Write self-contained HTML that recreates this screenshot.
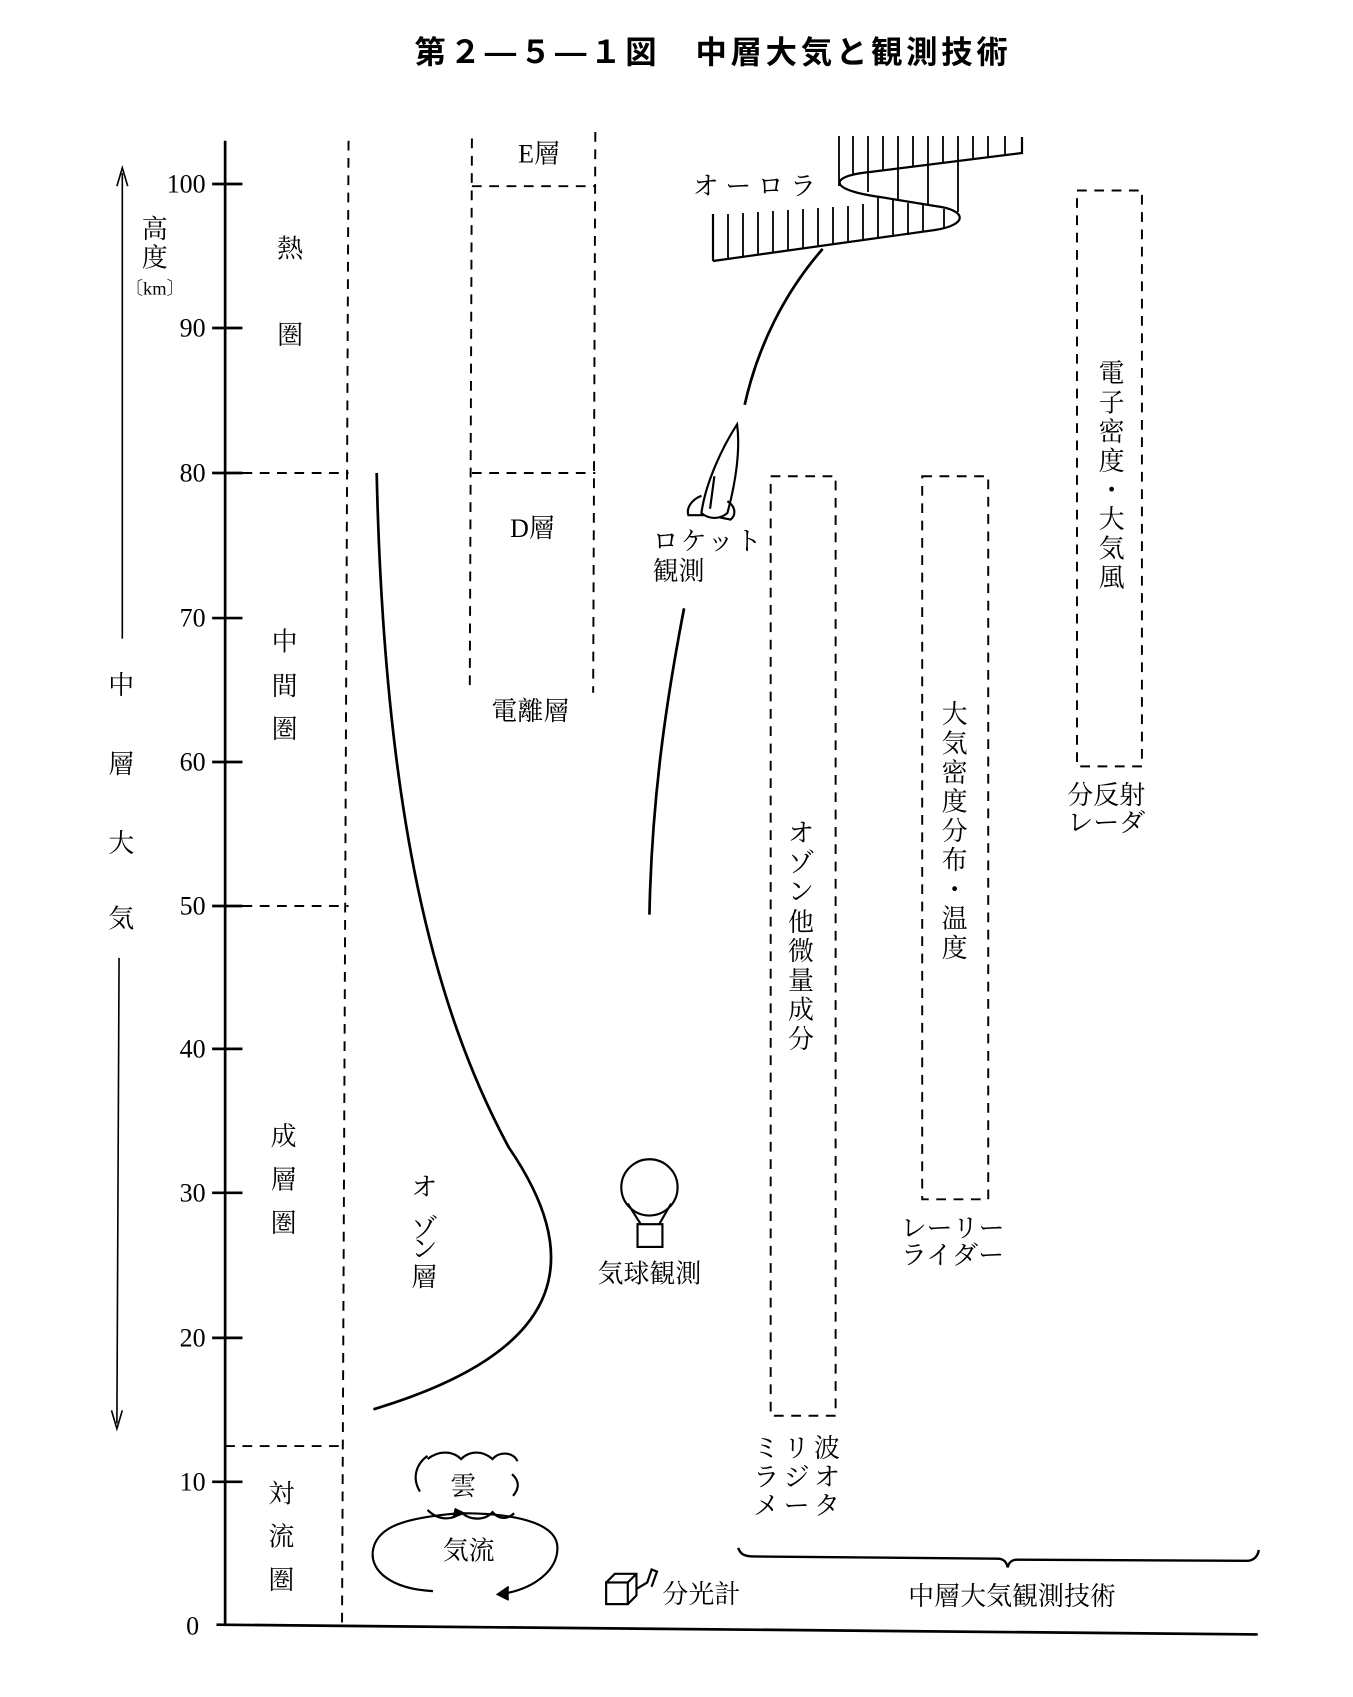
<!DOCTYPE html>
<html><head><meta charset="utf-8"><style>
html,body{margin:0;padding:0;background:#fff;}
svg{display:block}
text{font-family:"Liberation Serif","Noto Serif CJK SC","Noto Sans CJK JP",serif;fill:#000;font-size:24px}
.b{font-family:"Liberation Sans","Noto Sans CJK JP",sans-serif;font-weight:bold;font-size:29px}
.n{font-family:"Liberation Serif",serif;font-size:24px}
</style></head><body>
<svg width="1353" height="1697" viewBox="0 0 1353 1697" xmlns="http://www.w3.org/2000/svg">
<g transform="scale(1.0824)" stroke="#000" fill="none">
<text class="b" x="383" y="58" stroke="none" textLength="548">第２—５—１図　中層大気と観測技術</text>
<line x1="208" y1="130" x2="208" y2="1502" stroke-width="2.5"/>
<line x1="200" y1="1501" x2="1162" y2="1510" stroke-width="2.5"/>
<g stroke-width="2.5">
<line x1="196" y1="170" x2="224" y2="170"/><line x1="196" y1="303" x2="224" y2="303"/>
<line x1="196" y1="437" x2="224" y2="437"/><line x1="196" y1="571" x2="224" y2="571"/>
<line x1="196" y1="704" x2="224" y2="704"/><line x1="196" y1="837" x2="224" y2="837"/>
<line x1="196" y1="969" x2="224" y2="969"/><line x1="196" y1="1102" x2="224" y2="1102"/>
<line x1="196" y1="1236" x2="224" y2="1236"/><line x1="196" y1="1369" x2="224" y2="1369"/>
</g>
<g stroke="none">
<text class="n" x="190" y="178" text-anchor="end">100</text>
<text class="n" x="190" y="311" text-anchor="end">90</text>
<text class="n" x="190" y="445" text-anchor="end">80</text>
<text class="n" x="190" y="579" text-anchor="end">70</text>
<text class="n" x="190" y="712" text-anchor="end">60</text>
<text class="n" x="190" y="845" text-anchor="end">50</text>
<text class="n" x="190" y="977" text-anchor="end">40</text>
<text class="n" x="190" y="1110" text-anchor="end">30</text>
<text class="n" x="190" y="1244" text-anchor="end">20</text>
<text class="n" x="190" y="1377" text-anchor="end">10</text>
<text class="n" x="184" y="1510" text-anchor="end">0</text>
</g>
<line x1="113" y1="160" x2="113" y2="590" stroke-width="1.5"/>
<path d="M108,172 L113,155 L118,172" stroke-width="1.5"/>
<line x1="110" y1="885" x2="108" y2="1315" stroke-width="1.5"/>
<path d="M103,1303 L108,1320 L113,1303" stroke-width="1.5"/>
<g stroke="none" text-anchor="middle">
<text x="112" y="641">中</text><text x="112" y="714">層</text><text x="112" y="787">大</text><text x="112" y="857">気</text>
<text x="143" y="220">高</text><text x="143" y="246">度</text><text x="143" y="272" style="font-size:17px">〔km〕</text>
<text x="268" y="238">熱</text><text x="268" y="318">圏</text>
<text x="263" y="601">中</text><text x="263" y="642">間</text><text x="263" y="682">圏</text>
<text x="262" y="1058">成</text><text x="262" y="1098">層</text><text x="262" y="1138">圏</text>
<text x="260" y="1388">対</text><text x="260" y="1428">流</text><text x="260" y="1468">圏</text>
</g>
<g stroke-width="1.8" stroke-dasharray="9,7">
<line x1="322" y1="130" x2="316" y2="1500"/>
<line x1="208" y1="437" x2="322" y2="437"/>
<line x1="208" y1="837" x2="322" y2="837"/>
<line x1="208" y1="1336" x2="318" y2="1336"/>
<line x1="436" y1="128" x2="434" y2="640"/>
<line x1="550" y1="122" x2="548" y2="640"/>
<line x1="436" y1="172" x2="550" y2="172"/>
<line x1="436" y1="437" x2="550" y2="437"/>
<rect x="712" y="440" width="60" height="868"/>
<rect x="852" y="440" width="61" height="668"/>
<rect x="995" y="176" width="60" height="532"/>
</g>
<g stroke="none" text-anchor="middle">
<text x="498" y="150">E層</text><text x="492" y="496">D層</text><text x="490" y="665">電離層</text>
</g>
<path d="M348,437 C355,750 400,930 470,1060 C535,1155 535,1245 345,1302" stroke-width="2.5"/>
<g stroke="none" text-anchor="middle">
<text x="392" y="1105">オ</text><text x="392" y="1143">ゾ</text><text x="392" y="1162">ン</text><text x="392" y="1188">層</text>
</g>
<g stroke-width="2">
<path d="M388,1378 C380,1365 385,1352 395,1345"/>
<path d="M395,1348 C405,1340 418,1340 426,1348 C434,1340 446,1340 455,1348 C462,1340 475,1342 478,1350"/>
<path d="M473,1362 C480,1368 480,1375 474,1382"/>
<path d="M395,1395 C405,1405 418,1405 426,1397 C434,1405 448,1405 455,1397 C462,1405 470,1403 475,1398"/>
<path d="M400,1470 C360,1468 340,1450 345,1430 C350,1410 375,1402 425,1398"/>
<path d="M420,1394 L428,1398 L418,1402" fill="#000"/>
<path d="M425,1398 C485,1398 515,1410 515,1430 C515,1450 495,1468 462,1473"/>
<path d="M470,1466 L460,1473 L470,1478" fill="#000"/>
</g>
<g stroke="none" text-anchor="middle"><text x="428" y="1381">雲</text><text x="433" y="1441">気流</text></g>
<g stroke-width="2">
<rect x="560" y="1462" width="20" height="20"/>
<path d="M560,1462 L568,1454 L588,1454 L588,1474 L580,1482 M580,1462 L588,1454"/>
<path d="M588,1468 L598,1462 L602,1450 L607,1452 L602,1466"/>
</g>
<text x="612" y="1481" stroke="none">分光計</text>
<g stroke-width="2">
<circle cx="600" cy="1097" r="26"/>
<path d="M580,1112 L592,1131 M620,1112 L609,1131"/>
<rect x="589" y="1131" width="23" height="21"/>
</g>
<text x="600" y="1185" stroke="none" text-anchor="middle">気球観測</text>
<path d="M688,374 C700,320 725,270 760,230" stroke-width="2.5"/>
<path d="M632,562 C615,650 602,740 600,845" stroke-width="2.5"/>
<g stroke-width="2">
<path d="M681,392 C668,412 652,445 648,474 C655,480 665,480 672,474 C680,445 684,415 681,392 Z"/>
<path d="M648,458 C638,462 634,470 636,476 L650,476"/>
<path d="M672,463 C680,468 680,476 675,480 L665,478"/>
<path d="M660,440 L656,470"/>
</g>
<g stroke="none"><text x="603" y="508" letter-spacing="2">ロケット</text><text x="603" y="536">観測</text></g>
<g stroke="none" text-anchor="middle">
<text x="740" y="778">オ</text><text x="740" y="805">ゾ</text><text x="740" y="832">ン</text><text x="740" y="860">他</text><text x="740" y="887">微</text><text x="740" y="914">量</text><text x="740" y="941">成</text><text x="740" y="968">分</text>
<text x="738" y="1346" letter-spacing="4">ミリ波</text><text x="738" y="1373" letter-spacing="4">ラジオ</text><text x="738" y="1399" letter-spacing="4">メータ</text>
<text x="882" y="668">大</text><text x="882" y="695">気</text><text x="882" y="722">密</text><text x="882" y="749">度</text><text x="882" y="776">分</text><text x="882" y="803">布</text><text x="882" y="830">・</text><text x="882" y="857">温</text><text x="882" y="884">度</text>
<text x="880" y="1143">レーリー</text><text x="880" y="1168">ライダー</text>
<text x="1027" y="353">電</text><text x="1027" y="380">子</text><text x="1027" y="407">密</text><text x="1027" y="434">度</text><text x="1027" y="461">・</text><text x="1027" y="488">大</text><text x="1027" y="515">気</text><text x="1027" y="542">風</text>
<text x="1022" y="743">分反射</text><text x="1022" y="768">レーダ</text>
</g>
<path d="M682,1430 C684,1436 688,1438 696,1438 L922,1440 C928,1440 930,1444 931,1448 C932,1444 934,1441 940,1441 L1152,1442 C1158,1442 1162,1438 1163,1432" stroke-width="2.2"/>
<text x="935" y="1483" stroke="none" text-anchor="middle">中層大気観測技術</text>
<text x="700" y="180" stroke="none" text-anchor="middle" letter-spacing="6">オーロラ</text>
</g>
<g stroke="#000" fill="none" stroke-width="2.2">
<path d="M713,261 L935,230 C968,225 968,210 935,206 L880,197 C828,190 828,176 870,172 L1022,153 L1022,137"/>
<line x1="713" y1="261" x2="713" y2="214"/>
<g stroke-width="1.8">
<line x1="728" y1="259" x2="728" y2="214"/><line x1="743" y1="257" x2="743" y2="213"/><line x1="758" y1="255" x2="758" y2="212"/>
<line x1="773" y1="253" x2="773" y2="211"/><line x1="788" y1="251" x2="788" y2="210"/><line x1="803" y1="249" x2="803" y2="209"/>
<line x1="818" y1="247" x2="818" y2="208"/><line x1="833" y1="245" x2="833" y2="207"/><line x1="848" y1="243" x2="848" y2="206"/>
<line x1="863" y1="241" x2="863" y2="204"/><line x1="878" y1="239" x2="878" y2="197"/><line x1="893" y1="237" x2="893" y2="200"/>
<line x1="908" y1="235" x2="908" y2="203"/><line x1="923" y1="232" x2="923" y2="205"/><line x1="944" y1="229" x2="944" y2="209"/>
<line x1="839" y1="136" x2="839" y2="186"/><line x1="853" y1="136" x2="853" y2="174"/><line x1="868" y1="136" x2="868" y2="172"/>
<line x1="883" y1="136" x2="883" y2="170"/><line x1="898" y1="136" x2="898" y2="168"/><line x1="913" y1="136" x2="913" y2="166"/>
<line x1="928" y1="136" x2="928" y2="165"/><line x1="943" y1="136" x2="943" y2="163"/><line x1="958" y1="136" x2="958" y2="161"/>
<line x1="973" y1="136" x2="973" y2="159"/><line x1="988" y1="136" x2="988" y2="157"/><line x1="1005" y1="136" x2="1005" y2="155"/>
<line x1="868" y1="172" x2="868" y2="192"/><line x1="898" y1="168" x2="898" y2="200"/><line x1="928" y1="165" x2="928" y2="205"/>
<line x1="958" y1="161" x2="958" y2="212"/>
</g>
</g>
</svg>
</body></html>
